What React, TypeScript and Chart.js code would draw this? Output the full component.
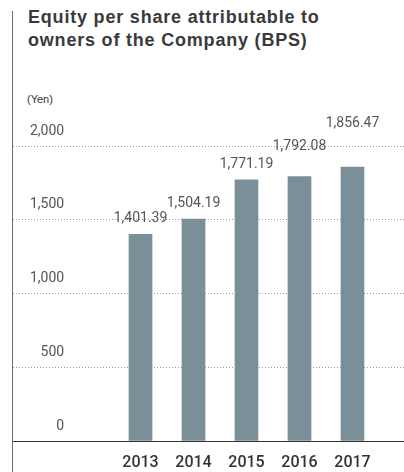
import React, { useEffect, useRef } from "react";
import { Chart, registerables } from "chart.js";

Chart.register(...registerables);

const years = [2013, 2014, 2015, 2016, 2017];
const bps = [1401.39, 1504.19, 1771.19, 1792.08, 1856.47];
const bpsLabels = ["1,401.39", "1,504.19", "1,771.19", "1,792.08", "1,856.47"];
const yTicks = [0, 500, 1000, 1500, 2000];

const valueLabelPlugin = {
  id: "valueLabels",
  afterDatasetsDraw(chart: any, _args: any, opts: any) {
    const ctx = chart.ctx;
    const meta = chart.getDatasetMeta(0);
    ctx.save();
    ctx.font = opts.font;
    ctx.fillStyle = opts.color;
    ctx.textAlign = "center";
    ctx.textBaseline = "alphabetic";
    meta.data.forEach((bar: any, i: number) => {
      const lift = (opts.lift && opts.lift[i]) || 0;
      ctx.fillText(bpsLabels[i], bar.x, bar.y - opts.gap - lift);
    });
    ctx.restore();
  },
};

export default function App() {
  const ref = useRef<HTMLCanvasElement | null>(null);

  useEffect(() => {
    if (!ref.current) return;
    const chart = new Chart(ref.current, {
      type: "bar",
      data: {
        datasets: [
          {
            data: years.map((y, i) => ({ x: y, y: bps[i] })),
            backgroundColor: "#7b8f99",
            barThickness: 23,
            borderWidth: 0,
          },
        ],
      },
      options: {
        responsive: false,
        animation: false,
        layout: { padding: { left: 13, right: 0, top: 146, bottom: 0 } },
        plugins: {
          legend: { display: false },
          tooltip: { enabled: false },
          title: { display: false },
          valueLabels: {
            font: '14px Roboto',
            color: "#555",
            gap: 12,
            lift: [0, 0, 0, 15, 28],
          },
        } as any,
        scales: {
          x: {
            type: "linear",
            min: 2010.594,
            max: 2017.972,
            offset: false,
            grid: { display: false, offset: false, drawTicks: false },
            border: { display: true, color: "#333", width: 1 },
            afterFit: (scale: any) => {
              scale.height = 31;
            },
            afterBuildTicks: (scale: any) => {
              scale.ticks = years.map((v) => ({ value: v }));
            },
            ticks: {
              padding: 12,
              autoSkip: false,
              maxRotation: 0,
              font: { family: "Roboto", size: 16, weight: 500 },
              color: "#333",
              callback: (v: any) => String(v),
            },
          },
          y: {
            type: "linear",
            min: 0,
            max: 2000,
            afterFit: (scale: any) => {
              scale.width = 0;
            },
            afterBuildTicks: (scale: any) => {
              scale.ticks = yTicks.map((v) => ({ value: v }));
            },
            grid: { color: "#9a9a9a", lineWidth: 1, drawTicks: false },
            border: { display: false, dash: [1, 2] },
            ticks: {
              mirror: true,
              crossAlign: "far",
              padding: 17,
              labelOffset: -15,
              font: { family: "Roboto", size: 14 },
              color: "#555",
              callback: (v: any) => Number(v).toLocaleString("en-US"),
            },
          },
        },
      },
      plugins: [valueLabelPlugin],
    } as any);
    return () => chart.destroy();
  }, []);

  return (
    <div
      style={{
        position: "fixed",
        left: 0,
        top: 0,
        width: 404,
        height: 472,
        overflow: "hidden",
        background: "#fff",
      }}
    >
      <div
        style={{
          position: "absolute",
          left: 12,
          top: 11,
          width: 1,
          bottom: 0,
          background: "#6f6f6f",
        }}
      />
      <div
        style={{
          position: "absolute",
          left: 28,
          top: 6,
          font: 'bold 18px/23px "Liberation Sans", Arial, sans-serif',
          letterSpacing: "0.8px",
          color: "#3a3a3a",
          whiteSpace: "nowrap",
        }}
      >
        Equity per share attributable to
        <br />
        owners of the Company (BPS)
      </div>
      <div
        style={{
          position: "absolute",
          left: 27,
          top: 93,
          font: '11px/13px "Liberation Sans", Arial, sans-serif',
          color: "#333",
          whiteSpace: "nowrap",
        }}
      >
        (Yen)
      </div>
      <canvas
        ref={ref}
        width={404}
        height={472}
        style={{ position: "absolute", left: 0, top: 0, width: 404, height: 472 }}
      />
    </div>
  );
}
